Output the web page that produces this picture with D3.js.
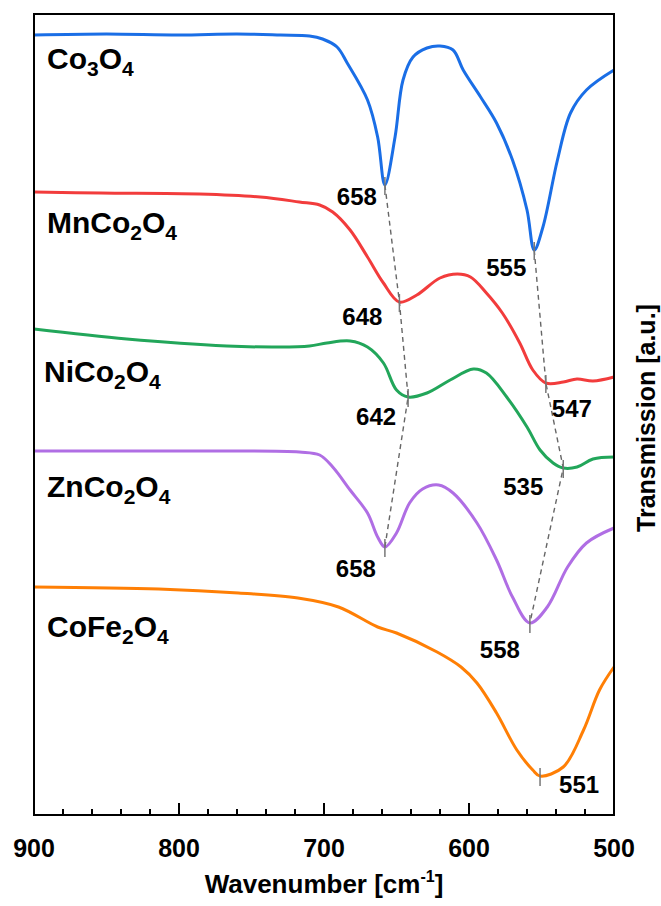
<!DOCTYPE html>
<html>
<head>
<meta charset="utf-8">
<script src="https://cdn.jsdelivr.net/npm/d3@7"></script>
<style>
  body { margin: 0; background: #fff; }
  text { font-family: "Liberation Sans", Arial, sans-serif; font-weight: bold; fill: #000; }
</style>
</head>
<body>
<div id="chart"></div>
<script>
// ---- data: [wavenumber, transmission (a.u.)]
var co3o4 = [[900,78.0],[850,78.1],[800,78.0],[760,78.1],[730,78.0],[710,77.9],[701,77.6],[691,76.8],[684,75.2],
  [670,71.5],[663,67.8],[658,63.0],[651,67.8],[645.5,73.5],[638.6,75.8],[629,76.7],[620,76.9],
  [611,76.5],[604,74.5],[592,71.8],[581,69.2],[570,65.5],[560,60.5],[555,56.5],[549,58.8],
  [539,65.5],[530,70.2],[519,72.5],[500,74.5]];
var mnco2o4 = [[900,62.3],[854,62.2],[786,62.1],[744,61.8],[717,61.3],[703,61.0],[694,60.3],
  [682,58.5],[670,55.8],[659,53.2],[648,51.3],[636,52.0],[620,53.7],[608,54.1],[599,53.8],
  [588,52.2],[577,50.2],[565,47.2],[556,44.5],[547,43.2],[535,43.3],[525.5,43.6],[514.5,43.4],[500,43.8]];
var nico2o4 = [[900,48.6],[836,47.6],[767,46.9],[732,46.8],[710,46.9],[698,47.2],[682,47.4],
  [670,46.8],[659,45.2],[650,42.5],[642,41.8],[629,42.2],[613,43.5],[597,44.6],[588,44.2],
  [574,41.8],[560,38.8],[551,36.5],[542,35.2],[535,34.7],[525.5,34.8],[514.5,35.6],[500,35.8]];
var znco2o4 = [[900,36.4],[786,36.4],[717,36.3],[703,36.0],[694,34.8],[682,32.5],[670,30.2],
  [663,27.8],[658,26.8],[650,28.2],[641,31.2],[632,32.6],[621,33.0],[611,32.2],[594.5,29.2],
  [581,25.5],[570,21.8],[558,19.2],[546,20.8],[532,24.8],[519,27.2],[500,28.7]];
var cofe2o4 = [[900,22.8],[814,22.6],[759,22.2],[718,21.7],[690,20.8],[663,18.8],[650,18.2],
  [622,16.3],[605.5,14.8],[594.5,13.2],[581,10.2],[567,6.5],[556,4.5],[551,3.9],[535,4.8],
  [521,8.5],[510,12.5],[500,14.8]];

var seriesNames = ["Co3O4", "MnCo2O4", "NiCo2O4", "ZnCo2O4", "CoFe2O4"];
var seriesData = [co3o4, mnco2o4, nico2o4, znco2o4, cofe2o4];
var seriesColors = ["#1a6ee6", "#f23c3c", "#22a65a", "#b06ee4", "#ff7f05"];

// peak positions per series (wavenumber)
var peaksLeft = [658, 648, 642, 658];   // Co3O4, MnCo2O4, NiCo2O4, ZnCo2O4
var peaksRight = [555, 547, 535, 558];
var peakCoFe = 551;

var xTicks = [900, 800, 700, 600, 500];

// ---- layout
var width = 661, height = 906;
var pLeft = 34, pRight = 614, pTop = 14, pBottom = 815;

var svg = d3.select("#chart").append("svg")
  .attr("width", width)
  .attr("height", height);

var x = d3.scaleLinear().domain([900, 500]).range([pLeft, pRight]);
var y = d3.scaleLinear().domain([0, 80.1]).range([pBottom, pTop]);

function valueAt(series, wn) {
  var p = series.find(function (d) { return d[0] === wn; });
  return p[1];
}

// curves
var line = d3.line()
  .x(function (d) { return x(d[0]); })
  .y(function (d) { return y(d[1]); })
  .curve(d3.curveCatmullRom.alpha(0.5));

svg.selectAll("path.spec")
  .data(seriesData)
  .enter()
  .append("path")
  .attr("class", "spec")
  .attr("d", line)
  .attr("fill", "none")
  .attr("stroke", function (d, i) { return seriesColors[i]; })
  .attr("stroke-width", 3)
  .attr("stroke-linejoin", "round");

// dashed connectors between peaks
function chain(peaks) {
  return peaks.map(function (wn, i) { return [wn, valueAt(seriesData[i], wn)]; });
}
var chains = [chain(peaksLeft), chain(peaksRight)];

svg.selectAll("path.conn")
  .data(chains)
  .enter()
  .append("path")
  .attr("class", "conn")
  .attr("d", d3.line().x(function (d) { return x(d[0]); }).y(function (d) { return y(d[1]); }))
  .attr("fill", "none")
  .attr("stroke", "#666")
  .attr("stroke-width", 1.4)
  .attr("stroke-dasharray", "5,4");

// peak marks + labels
var peakMarks = chains[0].concat(chains[1]).concat([[peakCoFe, valueAt(cofe2o4, peakCoFe)]]);
// label offsets from the peak (px), same order as peakMarks
var labelOffsets = [[-8, 20, "end"], [-17, 23, "end"], [-12, 28, "end"], [-9, 30, "end"],
                    [-8, 26, "end"], [6, 34, "start"], [-20, 27, "end"], [-10, 35, "end"],
                    [19, 17, "start"]];

svg.selectAll("line.pk")
  .data(peakMarks)
  .enter()
  .append("line")
  .attr("class", "pk")
  .attr("x1", function (d) { return x(d[0]); })
  .attr("x2", function (d) { return x(d[0]); })
  .attr("y1", function (d) { return y(d[1]) - 8; })
  .attr("y2", function (d) { return y(d[1]) + 10; })
  .attr("stroke", "#777")
  .attr("stroke-width", 1.5);

svg.selectAll("text.pk")
  .data(peakMarks)
  .enter()
  .append("text")
  .attr("class", "pk")
  .attr("x", function (d, i) { return x(d[0]) + labelOffsets[i][0]; })
  .attr("y", function (d, i) { return y(d[1]) + labelOffsets[i][1]; })
  .attr("text-anchor", function (d, i) { return labelOffsets[i][2]; })
  .attr("font-size", "24px")
  .text(function (d) { return d[0]; });

// series names with subscripts
var nameBaselines = [69, 233, 382, 497, 637];
seriesNames.forEach(function (name, i) {
  var t = svg.append("text")
    .attr("x", i === 2 ? 44 : 47)
    .attr("y", nameBaselines[i])
    .attr("font-size", "30px");
  var parts = name.match(/[A-Za-z]+|\d+/g);
  var shifted = false;
  parts.forEach(function (p) {
    var isNum = /\d/.test(p);
    var ts = t.append("tspan").text(p);
    if (isNum) {
      ts.attr("font-size", "21px").attr("dy", 7);
      shifted = true;
    } else if (shifted) {
      ts.attr("dy", -7);
      shifted = false;
    }
  });
});

// frame
svg.append("rect")
  .attr("x", pLeft)
  .attr("y", pTop)
  .attr("width", pRight - pLeft)
  .attr("height", pBottom - pTop)
  .attr("fill", "none")
  .attr("stroke", "#000")
  .attr("stroke-width", 2);

// x axis with inward ticks
var xAxis = svg.append("g").attr("transform", "translate(0," + pBottom + ")");
xAxis.selectAll("line.minor")
  .data(d3.range(900, 499, -20))
  .enter()
  .append("line")
  .attr("x1", function (d) { return x(d); })
  .attr("x2", function (d) { return x(d); })
  .attr("y1", 0)
  .attr("y2", function (d) { return d % 100 === 0 ? -12 : -6; })
  .attr("stroke", "#000")
  .attr("stroke-width", 2);

xAxis.selectAll("text")
  .data(xTicks)
  .enter()
  .append("text")
  .attr("x", function (d) { return x(d); })
  .attr("y", 42)
  .attr("text-anchor", "middle")
  .attr("font-size", "25px")
  .text(function (d) { return d; });

// axis titles
var xt = svg.append("text")
  .attr("x", (pLeft + pRight) / 2)
  .attr("y", 893)
  .attr("text-anchor", "middle")
  .attr("font-size", "26px");
xt.append("tspan").text("Wavenumber [cm");
xt.append("tspan").attr("font-size", "16px").attr("dy", -11).text("-1");
xt.append("tspan").attr("dy", 11).text("]");

svg.append("text")
  .attr("transform", "translate(655,418) rotate(-90)")
  .attr("text-anchor", "middle")
  .attr("font-size", "25px")
  .text("Transmission [a.u.]");
</script>
</body>
</html>
